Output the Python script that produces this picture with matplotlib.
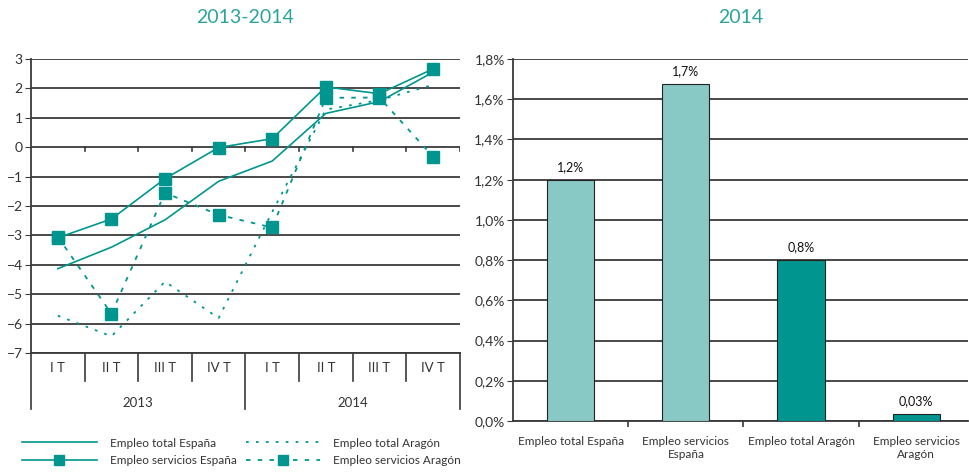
import matplotlib
matplotlib.use("Agg")
import matplotlib.pyplot as plt
import matplotlib.transforms as mtransforms
import numpy as np

plt.rcParams["font.family"] = ["Lato", "DejaVu Sans"]

# left panel: quarterly data 2013-2014
quarters = ["I T", "II T", "III T", "IV T", "I T", "II T", "III T", "IV T"]
years = ["2013", "2014"]
total_espana = [-4.13, -3.40, -2.47, -1.16, -0.47, 1.15, 1.55, 2.55]
servicios_espana = [-3.08, -2.44, -1.07, -0.01, 0.29, 2.05, 1.82, 2.66]
total_aragon = [-5.73, -6.43, -4.57, -5.81, -2.20, 1.28, 1.60, 2.12]
servicios_aragon = [-3.05, -5.66, -1.55, -2.30, -2.73, 1.68, 1.69, -0.32]

# right panel: 2014 annual
bar_labels = ["Empleo total España", "Empleo servicios\nEspaña",
              "Empleo total Aragón", "Empleo servicios\nAragón"]
bar_values = [1.20, 1.675, 0.80, 0.035]
bar_text = ["1,2%", "1,7%", "0,8%", "0,03%"]

TEAL = "#00968F"
LIGHT = "#89C9C5"
TITLE = "#2BA59C"
GRID = "#3a3a3a"
TXT = "#333333"

fig = plt.figure(figsize=(9.7, 4.72), dpi=100)

# ---------------- left: line chart ----------------
ax = fig.add_axes([0.032, 0.252, 0.442, 0.623])
x = np.arange(len(quarters))
ax.plot(x, total_espana, color=TEAL, lw=1.2, label="Empleo total España")
ax.plot(x, servicios_espana, color=TEAL, lw=1.2, marker="s", ms=8.5,
        label="Empleo servicios España")
ax.plot(x, total_aragon, color=TEAL, lw=1.3, ls=(0, (1.5, 4)),
        label="Empleo total Aragón")
ax.plot(x, servicios_aragon, color=TEAL, lw=1.3, ls=(0, (2.5, 4)), marker="s",
        ms=8.5, label="Empleo servicios Aragón")

ax.set_xlim(-0.5, 7.5)
ax.set_ylim(-7, 3)
ax.set_yticks(range(-7, 4))
ax.yaxis.grid(True, color=GRID, lw=1.3)
ax.set_axisbelow(True)
ax.set_xticks([])
for s in ["top", "right", "bottom"]:
    ax.spines[s].set_visible(False)
ax.spines["left"].set_color(GRID)
ax.spines["left"].set_linewidth(1.3)
ax.tick_params(axis="y", length=4, color=GRID, labelsize=10, labelcolor=TXT, pad=2)

# small ticks on the zero line
for b in np.arange(0.5, 8, 1):
    ax.plot([b, b], [0, -0.12], color=GRID, lw=1.2)

# category box below the plot
trans = mtransforms.blended_transform_factory(ax.transData, ax.transAxes)
ax.plot([-0.5, 7.5], [0, 0], transform=trans, color=GRID, lw=1.3, clip_on=False)
for b in np.arange(-0.5, 8, 1):
    low = -0.19 if b in (-0.5, 3.5, 7.5) else -0.095
    ax.plot([b, b], [0, low], transform=trans, color=GRID, lw=1.2, clip_on=False)
for i, q in enumerate(quarters):
    ax.text(i, -0.05, q, transform=trans, ha="center", va="center",
            fontsize=9.5, color=TXT)
for j, yr in enumerate(years):
    ax.text(1.5 + 4 * j, -0.17, yr, transform=trans, ha="center", va="center",
            fontsize=9.5, color=TXT)

handles, labels = ax.get_legend_handles_labels()
fig.legend(handles, labels, loc="lower left", ncol=2,
           bbox_to_anchor=(0.012, -0.01), frameon=False, fontsize=8.5,
           handlelength=6.3, handletextpad=1.1, columnspacing=0.8,
           labelspacing=0.55, labelcolor=TXT, markerscale=0.8)

fig.text(0.253, 0.962, "2013-2014", ha="center", va="center",
         fontsize=14, color=TITLE)

# ---------------- right: bar chart ----------------
bx = fig.add_axes([0.529, 0.108, 0.469, 0.767])
pos = np.arange(len(bar_values))
colors = [LIGHT, LIGHT, TEAL, TEAL]
bars = bx.bar(pos, bar_values, width=0.41, color=colors, edgecolor="#222222",
              lw=0.8, zorder=3)
for rect, t in zip(bars, bar_text):
    bx.annotate(t, (rect.get_x() + rect.get_width() / 2, rect.get_height()),
                xytext=(0, 5), textcoords="offset points", ha="center",
                va="bottom", fontsize=9, color="#111111")

bx.set_xlim(-0.5, 3.45)
bx.set_ylim(0, 1.8)
yt = np.arange(0, 1.81, 0.2)
bx.set_yticks(yt)
bx.set_yticklabels([f"{v:.1f}%".replace(".", ",") for v in yt])
bx.yaxis.grid(True, color=GRID, lw=1.3, zorder=0)
bx.set_axisbelow(True)
bx.set_xticks(pos)
bx.set_xticklabels(bar_labels)
bx.tick_params(axis="x", length=0, labelsize=8.5, labelcolor=TXT, pad=11)
bx.tick_params(axis="y", length=4, color=GRID, labelsize=10, labelcolor=TXT, pad=2)
bx.set_xticks(np.arange(0.5, 3, 1), minor=True)
bx.tick_params(axis="x", which="minor", length=4, color=GRID, width=1.2)
for s in ["top", "right"]:
    bx.spines[s].set_visible(False)
for s in ["left", "bottom"]:
    bx.spines[s].set_color(GRID)
    bx.spines[s].set_linewidth(1.3)

fig.text(0.764, 0.962, "2014", ha="center", va="center",
         fontsize=14, color=TITLE)

fig.savefig("out.png", dpi=100)
